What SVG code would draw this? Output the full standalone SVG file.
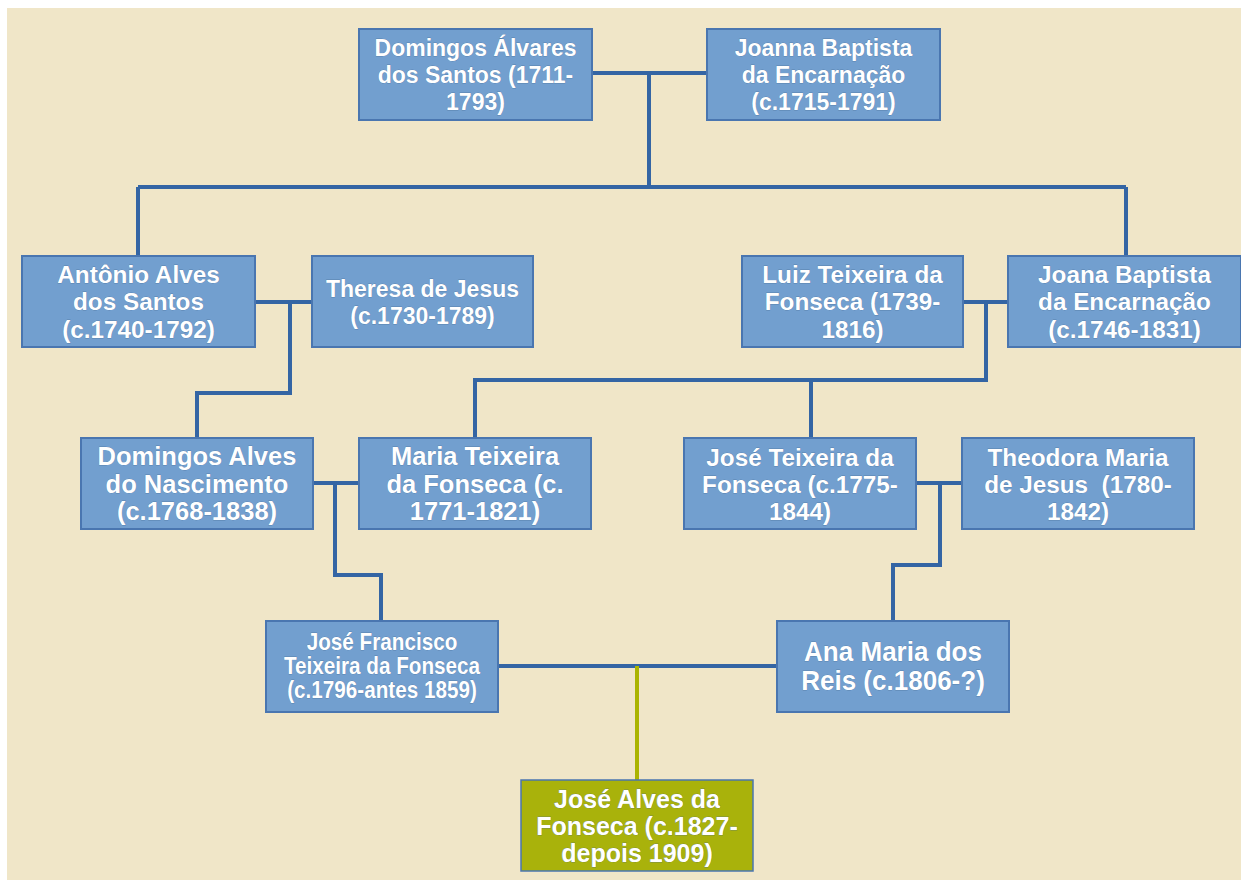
<svg xmlns="http://www.w3.org/2000/svg" width="1241" height="880" viewBox="0 0 1241 880">
<style>
.bx{fill:#729FCF;stroke:#4A76B0;stroke-width:2}
.ol{fill:#A9B20B;stroke:#4A76B0;stroke-width:1.5}
.ln{fill:none;stroke:#3465A4;stroke-width:4;stroke-linejoin:miter}
.lo{fill:none;stroke:#AAB400;stroke-width:4}
text{font-family:"Liberation Sans",Arial,sans-serif;font-weight:bold;fill:#FFFFFF;text-anchor:middle;stroke:#3D5F8C;stroke-width:0.35;paint-order:stroke}
</style>
<rect x="0" y="0" width="1241" height="880" fill="#FFFFFF"/>
<rect x="7" y="8" width="1234" height="872" fill="#F0E6C8"/>
<g id="connectors">
<path class="ln" d="M592,73 H707 M649,73 V187 M138,187 H1126 M138,187 V257 M1126,187 V257"/>
<path class="ln" d="M255,302 H312 M290,302 V393 H197 V438"/>
<path class="ln" d="M963,302 H1008 M986,302 V380 H475 V438 M811,380 V438"/>
<path class="ln" d="M313,483 H359 M335,483 V575 H381 V621"/>
<path class="ln" d="M916,483 H962 M940,483 V565 H893 V621"/>
<path class="ln" d="M498,666 H777"/>
<path class="lo" d="M637,666 V780"/>
</g>
<g id="n1"><rect class="bx" x="359" y="29" width="233" height="91"/>
<text font-size="23"><tspan x="475.5" y="56">Domingos Álvares</tspan><tspan x="475.5" y="83">dos Santos (1711-</tspan><tspan x="475.5" y="110">1793)</tspan></text></g>
<g id="n2"><rect class="bx" x="707" y="29" width="233" height="91"/>
<text font-size="23"><tspan x="823.5" y="56">Joanna Baptista</tspan><tspan x="823.5" y="83">da Encarnação</tspan><tspan x="823.5" y="110">(c.1715-1791)</tspan></text></g>
<g id="n3"><rect class="bx" x="22" y="256" width="233" height="91"/>
<text font-size="24.3"><tspan x="138.5" y="283">Antônio Alves</tspan><tspan x="138.5" y="310">dos Santos</tspan><tspan x="138.5" y="338">(c.1740-1792)</tspan></text></g>
<g id="n4"><rect class="bx" x="312" y="256" width="221" height="91"/>
<text font-size="23"><tspan x="422.5" y="297">Theresa de Jesus</tspan><tspan x="422.5" y="324">(c.1730-1789)</tspan></text></g>
<g id="n5"><rect class="bx" x="742" y="256" width="221" height="91"/>
<text font-size="24.3"><tspan x="852.5" y="283">Luiz Teixeira da</tspan><tspan x="852.5" y="310">Fonseca (1739-</tspan><tspan x="852.5" y="338">1816)</tspan></text></g>
<g id="n6"><rect class="bx" x="1008" y="256" width="233" height="91"/>
<text font-size="24.3"><tspan x="1124.5" y="283">Joana Baptista</tspan><tspan x="1124.5" y="310">da Encarnação</tspan><tspan x="1124.5" y="338">(c.1746-1831)</tspan></text></g>
<g id="n7"><rect class="bx" x="81" y="438" width="232" height="91"/>
<text font-size="25.5"><tspan x="197" y="465">Domingos Alves</tspan><tspan x="197" y="493">do Nascimento</tspan><tspan x="197" y="520">(c.1768-1838)</tspan></text></g>
<g id="n8"><rect class="bx" x="359" y="438" width="232" height="91"/>
<text font-size="25.5"><tspan x="475" y="465">Maria Teixeira</tspan><tspan x="475" y="493">da Fonseca (c.</tspan><tspan x="475" y="520">1771-1821)</tspan></text></g>
<g id="n9"><rect class="bx" x="684" y="438" width="232" height="91"/>
<text font-size="24.3"><tspan x="800" y="466">José Teixeira da</tspan><tspan x="800" y="493">Fonseca (c.1775-</tspan><tspan x="800" y="520">1844)</tspan></text></g>
<g id="n10"><rect class="bx" x="962" y="438" width="232" height="91"/>
<text font-size="24.3" xml:space="preserve"><tspan x="1078" y="466">Theodora Maria</tspan><tspan x="1078" y="493">de Jesus  (1780-</tspan><tspan x="1078" y="520">1842)</tspan></text></g>
<g id="n11"><rect class="bx" x="266" y="621" width="232" height="91"/>
<text font-size="23.5" transform="translate(382,0) scale(0.88,1)"><tspan x="0" y="650">José Francisco</tspan><tspan x="0" y="674">Teixeira da Fonseca</tspan><tspan x="0" y="698">(c.1796-antes 1859)</tspan></text></g>
<g id="n12"><rect class="bx" x="777" y="621" width="232" height="91"/>
<text font-size="28" transform="translate(893,0) scale(0.93,1)"><tspan x="0" y="661">Ana Maria dos</tspan><tspan x="0" y="690">Reis (c.1806-?)</tspan></text></g>
<g id="n13"><rect class="ol" x="521" y="780" width="232" height="91"/>
<text font-size="25"><tspan x="637" y="808">José Alves da</tspan><tspan x="637" y="835">Fonseca (c.1827-</tspan><tspan x="637" y="862">depois 1909)</tspan></text></g>
</svg>
